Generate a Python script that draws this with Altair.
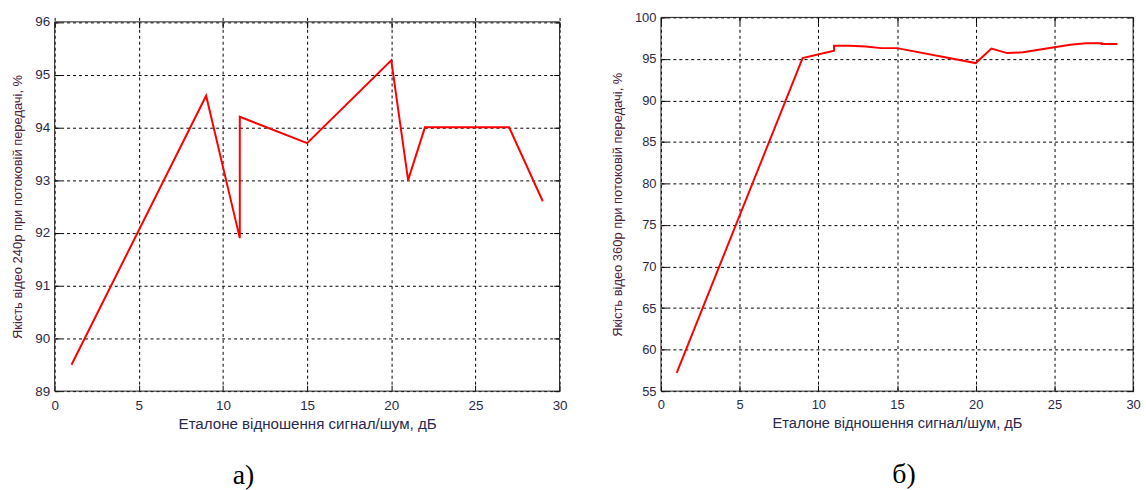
import altair as alt
import pandas as pd

# Reference signal-to-noise ratio, dB (x) and video quality, % (y)
snr_240 = [1, 9, 11, 11, 15, 20, 21, 22, 27, 29]
quality_240 = [89.5, 94.6, 91.9, 94.2, 93.7, 95.27, 93.0, 94.0, 94.0, 92.6]

snr_360 = [1, 9, 11, 11, 12, 13, 14, 15, 20, 21, 22, 23, 24, 25, 26, 27, 28, 28, 29]
quality_360 = [57.2, 95.1, 96.0, 96.6, 96.6, 96.5, 96.3, 96.3, 94.5, 96.25,
               95.7, 95.8, 96.1, 96.4, 96.7, 96.9, 96.9, 96.8, 96.8]

x_ticks = [0, 5, 10, 15, 20, 25, 30]
y_ticks_240 = [89, 90, 91, 92, 93, 94, 95, 96]
y_ticks_360 = [55, 60, 65, 70, 75, 80, 85, 90, 95, 100]

X_TITLE = "Еталоне відношення сигнал/шум, дБ"
Y_TITLE_240 = "Якість відео 240р при потоковій передачі, %"
Y_TITLE_360 = "Якість відео 360р при потоковій передачі, %"

FONT = "Liberation Sans"
TICK_COLOR = "#2a2a48"
YTITLE_COLOR = "#4a2040"
XTITLE_COLOR = "#2a2a50"
PANEL_H = 376
TICK_LEN = 6


def panel(xs, ys, y_ticks, y_title, width, top_gap, caption, caption_dx,
          tick_fs, xtitle_fs, ytitle_fs):
    df = pd.DataFrame({"snr": xs, "q": ys, "i": range(len(xs))})
    xdom = [x_ticks[0], x_ticks[-1]]
    ydom = [y_ticks[0], y_ticks[-1]]
    frame_df = pd.DataFrame({"x0": [xdom[0]], "x1": [xdom[1]],
                             "y0": [ydom[0]], "y1": [ydom[1]]})
    xscale = alt.Scale(domain=xdom, nice=False, zero=False)
    yscale = alt.Scale(domain=ydom, nice=False, zero=False,
                       range=[PANEL_H, top_gap])
    grid = dict(grid=True, gridColor="black", gridDash=[3, 3], gridWidth=1,
                gridOpacity=1)

    line = alt.Chart(df).mark_line(color="#ff0000", strokeWidth=2).encode(
        x=alt.X("snr:Q", scale=xscale,
                axis=alt.Axis(values=x_ticks, title=X_TITLE, orient="bottom",
                              ticks=False, domain=False, labelPadding=7,
                              titlePadding=5, labelFont=FONT,
                              labelFontSize=tick_fs, labelColor=TICK_COLOR,
                              titleFont=FONT, titleFontSize=xtitle_fs,
                              titleFontWeight="normal", titleColor=XTITLE_COLOR,
                              labelFlush=False, **grid)),
        y=alt.Y("q:Q", scale=yscale,
                axis=alt.Axis(values=y_ticks, title=y_title, orient="left",
                              ticks=False, domain=False, labelPadding=5,
                              titlePadding=10, labelFont=FONT,
                              labelFontSize=tick_fs, labelColor=TICK_COLOR,
                              titleFont=FONT, titleFontSize=ytitle_fs,
                              titleFontWeight="normal", titleColor=YTITLE_COLOR,
                              labelFlush=False, **grid)),
        order="i:Q",
    )

    # box around the data area, drawn from the axis domains
    frame = alt.Chart(frame_df).mark_rect(
        fillOpacity=0, stroke="#222222", strokeWidth=1
    ).encode(
        x=alt.X("x0:Q", axis=None), x2="x1:Q",
        y=alt.Y("y0:Q", axis=None), y2="y1:Q",
    )

    # short tick marks pointing into the data area on all four sides
    def inward(xorient, yorient, xoffset, yoffset):
        tick_axis = dict(labels=False, title=None, grid=False, domain=False,
                         ticks=True, tickSize=TICK_LEN, tickColor="black")
        return alt.Chart(df).mark_point(opacity=0).encode(
            x=alt.X("snr:Q", axis=alt.Axis(values=x_ticks, orient=xorient,
                                           offset=xoffset, **tick_axis)),
            y=alt.Y("q:Q", axis=alt.Axis(values=y_ticks, orient=yorient,
                                         offset=yoffset, **tick_axis)),
        )

    return alt.layer(
        line, frame,
        inward("bottom", "left", -TICK_LEN, -TICK_LEN),
        inward("top", "right", -(TICK_LEN + top_gap), -TICK_LEN),
    ).resolve_axis(
        x="independent", y="independent"
    ).properties(
        width=width, height=PANEL_H,
        title=alt.TitleParams(caption, orient="bottom", anchor="middle",
                              dx=caption_dx, offset=31, font="Liberation Serif",
                              fontSize=28, fontWeight="normal", color="black"),
    )


left = panel(snr_240, quality_240, y_ticks_240, Y_TITLE_240, 508, 4.5,
             "а)", -64, 13.5, 15.2, 13)
right = panel(snr_360, quality_360, y_ticks_360, Y_TITLE_360, 475, 0,
              "б)", 7, 13, 14.7, 13)

chart = alt.hconcat(left, right, spacing=44).configure_view(
    stroke=None
).properties(
    padding={"left": 11, "top": 10, "right": 5, "bottom": 0},
    background="white",
)

chart.save("out.html", embed_options={"renderer": "svg", "actions": False})
